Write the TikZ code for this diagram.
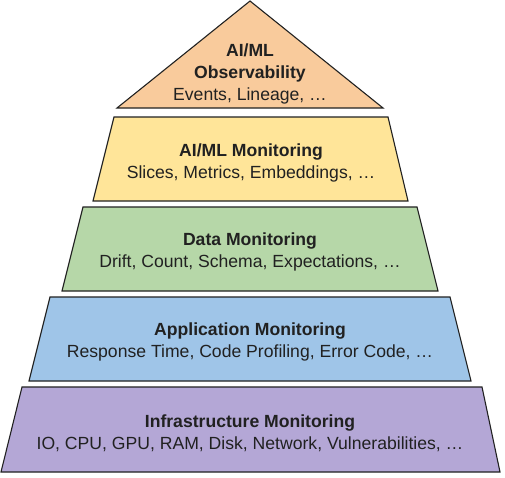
\documentclass[tikz,border=0pt]{standalone}
\usepackage{fontspec}
\setmainfont{Liberation Sans}
\definecolor{lorange}{HTML}{F9CB9C}
\definecolor{lyellow}{HTML}{FFE599}
\definecolor{lgreen}{HTML}{B6D7A8}
\definecolor{lblue}{HTML}{9FC5E8}
\definecolor{lpurple}{HTML}{B4A7D6}
\definecolor{ink}{HTML}{212121}
\begin{document}
\begin{tikzpicture}[x=1pt,y=-1pt,
  layer/.style={draw=ink,line width=1.1pt,line join=miter},
  lbl/.style={align=center,text=ink,font=\fontsize{17.6}{22}\selectfont,inner sep=0pt}]
\useasboundingbox (0,0) rectangle (505,477);
\draw[layer,fill=lorange] (250,1) -- (383,108) -- (117,108) -- cycle;
\draw[layer,fill=lyellow] (114,117) -- (388,117) -- (408,201) -- (93,201) -- cycle;
\draw[layer,fill=lgreen] (83,207) -- (417,207) -- (438,291) -- (62,291) -- cycle;
\draw[layer,fill=lblue] (50,297) -- (450,297) -- (471,381) -- (29,381) -- cycle;
\draw[layer,fill=lpurple] (22,387) -- (482,387) -- (500,472) -- (1,472) -- cycle;
\node[lbl] (obs) at (250,74) {\textbf{AI/ML}\\\textbf{Observability}\\Events, Lineage, …};
\node[lbl] (mlm) at (251,163) {\textbf{AI/ML Monitoring}\\Slices, Metrics, Embeddings, …};
\node[lbl] (dm) at (250,252) {\textbf{Data Monitoring}\\Drift, Count, Schema, Expectations, …};
\node[lbl] (am) at (250,342) {\textbf{Application Monitoring}\\Response Time, Code Profiling, Error Code, …};
\node[lbl] (im) at (250,433) {\textbf{Infrastructure Monitoring}\\IO, CPU, GPU, RAM, Disk, Network, Vulnerabilities, …};
\end{tikzpicture}
\end{document}
